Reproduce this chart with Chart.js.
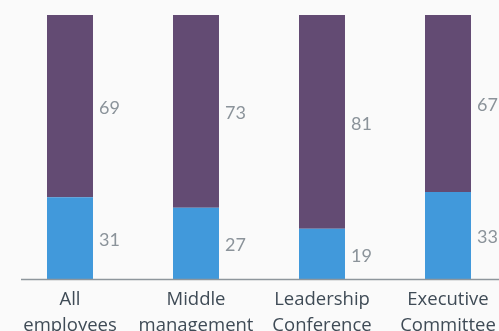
<!DOCTYPE html>
<html>
<head>
<meta charset="utf-8">
<script src="https://cdn.jsdelivr.net/npm/chart.js@4"></script>
<style>
  html, body { margin: 0; padding: 0; background: #fafafa; overflow: hidden; }
  #wrap { width: 520px; height: 331px; }
</style>
</head>
<body>
<div id="wrap"><canvas id="myCanvas" width="520" height="331"></canvas></div>
<script>
'use strict';
// data
let categories = [['All', 'employees'], ['Middle', 'management'], ['Leadership', 'Conference'], ['Executive', 'Committee']];
let lowerValues = [31, 27, 19, 33];
let upperValues = [69, 73, 81, 67];

// value labels drawn to the right of each segment
const sideLabels = {
  id: 'sideLabels',
  afterDatasetsDraw(chart) {
    const ctx = chart.ctx;
    ctx.save();
    ctx.font = '18px Lato';
    ctx.fillStyle = '#8b939a';
    ctx.textBaseline = 'middle';
    ctx.textAlign = 'left';
    chart.data.datasets.forEach((ds, i) => {
      chart.getDatasetMeta(i).data.forEach((bar, j) => {
        let x = bar.x + bar.width / 2 + 6;
        let y = (bar.y + bar.base) / 2 + 2;
        ctx.fillText(ds.data[j], x, y);
      });
    });
    ctx.restore();
  }
};

// base line under the bars
const baseLine = {
  id: 'baseLine',
  afterDatasetsDraw(chart) {
    const ctx = chart.ctx;
    const area = chart.chartArea;
    ctx.save();
    ctx.strokeStyle = '#8e969c';
    ctx.lineWidth = 1.5;
    ctx.beginPath();
    ctx.moveTo(area.left + 14, area.bottom + 0.5);
    ctx.lineTo(chart.width, area.bottom + 0.5);
    ctx.stroke();
    ctx.restore();
  }
};

const chartSection = document.getElementById('myCanvas').getContext('2d');
let myChart = new Chart(chartSection, {
  type: 'bar',
  data: {
    labels: categories,
    datasets: [
      {
        label: 'lower',
        data: lowerValues,
        backgroundColor: '#4199db',
        categoryPercentage: 1,
        barPercentage: 0.365,
      },
      {
        label: 'upper',
        data: upperValues,
        backgroundColor: '#634b73',
        categoryPercentage: 1,
        barPercentage: 0.365,
      },
    ],
  },
  options: {
    responsive: false,
    animation: false,
    layout: { padding: { left: 7, right: 9, top: 15, bottom: 0 } },
    plugins: { legend: { display: false }, tooltip: { enabled: false } },
    scales: {
      x: {
        stacked: true,
        grid: { display: false },
        border: { display: false },
        ticks: {
          color: '#3f4b56',
          font: { family: 'Open Sans', size: 18.5, lineHeight: 1.38 },
          padding: 0,
          maxRotation: 0,
          autoSkip: false,
        },
        afterFit(scale) { scale.height = 52; },
      },
      y: {
        stacked: true,
        display: false,
        min: 0,
        max: 100,
      },
    },
  },
  plugins: [sideLabels, baseLine],
});
</script>
</body>
</html>
